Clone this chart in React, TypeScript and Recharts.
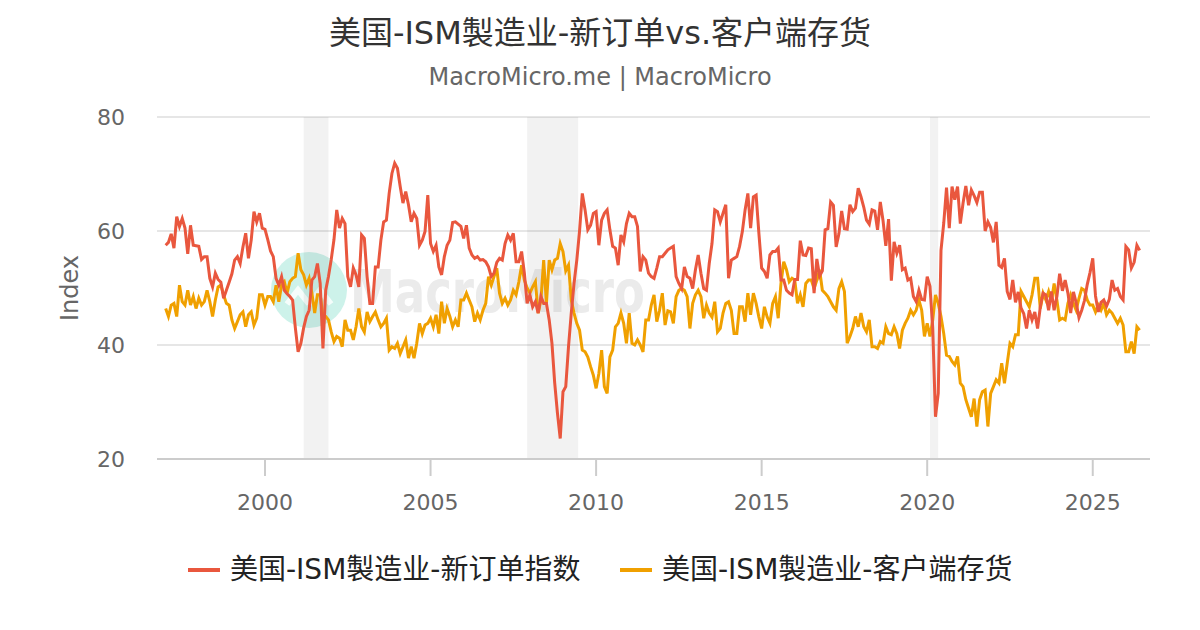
import React from 'react';
import { LineChart, Line, XAxis, YAxis, CartesianGrid, ReferenceArea } from 'recharts';

const FONT = "'DejaVu Sans', 'Noto Sans CJK SC', sans-serif";

const title = '美国-ISM製造业-新订单vs.客户端存货';
const subtitle = 'MacroMicro.me | MacroMicro';
const yAxisTitle = 'Index';
const seriesNames = ['美国-ISM製造业-新订单指数', '美国-ISM製造业-客户端存货'];
const seriesColors = ['#E9573E', '#F0A000'];

const startYear = 1997; // monthly data, Jan 1997 onward

const newOrders = [
  57.5, 58, 59.5, 57, 62.5, 60.8, 62.2, 60.5, 56, 61, 57.5, 57.4,
  57.3, 55, 55.5, 55.5, 51.7, 50.2, 52.6, 51.5, 51, 48.2, 49.6, 51,
  52.5, 54.9, 55.5, 54.3, 57.2, 59.6, 55.2, 58.4, 63.4, 61.6, 63.1, 60.5,
  60.3, 58.5, 56.5, 55.5, 51.7, 50.5, 52, 49.6, 49, 48.5, 47.9, 43,
  38.8, 40.3, 43, 45, 46.1, 51.4, 52, 54.3, 50.8, 39.4, 49.6, 52,
  55, 58.5, 63.7, 60.5, 62.2, 61.3, 52, 50.2, 53.5, 52.3, 50.2, 59.3,
  58.7, 52, 47.3, 47.3, 53.7, 53.7, 58.4, 61.6, 61.9, 66.6, 70.1, 71.9,
  71, 67.8, 64.9, 66.9, 64.6, 61.6, 63.1, 62.2, 57.5, 58.4, 59.9, 66.3,
  57.8, 56.4, 57.5, 53.7, 52.3, 55.5, 57.5, 58.4, 61.5, 61.6, 61.2, 60.8,
  58.7, 61, 57, 55.8, 55.2, 55.5, 54.9, 55, 54.6, 53.7, 52, 52.6,
  54.5, 55.2, 54.9, 57.8, 59.3, 58.4, 59.6, 54.6, 54.6, 56.4, 52.6, 47.3,
  48.8, 46.7, 47.6, 45.6, 48.5, 47.3, 47.3, 44.4, 40.3, 33.3, 28, 23.6,
  31.8, 32.7, 39.7, 45.6, 50.8, 54.9, 60, 66.6, 63.7, 60.2, 61, 63.1,
  63.4, 57.5, 61.9, 63.1, 63.7, 60.2, 57.3, 57, 54, 59.3, 58.1, 61.3,
  63.1, 62.5, 62.5, 60.8, 52.9, 55.5, 54.9, 52.6, 52, 51.7, 53.5, 55.5,
  55.5, 56.1, 56.7, 57, 57.3, 52, 50.8, 49.9, 53.7, 52, 51.7, 49.9,
  53.2, 55.8, 52.6, 49.9, 49.6, 54.3, 57.8, 63.7, 63.4, 61.6, 63.1, 64.6,
  51.7, 54.9, 55.2, 55.5, 57.3, 59.9, 63.7, 66.6, 60.5, 66, 66.3, 59.6,
  53.5, 52.9, 51.7, 55.8, 56.4, 56.4, 57, 51.4, 51.4, 49.6, 49.1, 48.8,
  51.5, 51.5, 58.3, 55.8, 55.7, 57, 56.9, 49.1, 55.1, 52.1, 53, 60.2,
  60.4, 65.1, 64.5, 57.2, 59.5, 63.5, 60.4, 60.3, 64.6, 63.4, 64, 67.5,
  66, 64.2, 61.9, 61.2, 63.7, 63.5, 60.2, 65.1, 61.8, 57.4, 62.1, 51.3,
  58.1, 56.1, 57.5, 53.2, 53.5, 51.4, 51.7, 48.5, 47.6, 49.6, 48, 47.9,
  52, 50.3, 43, 27.4, 31.5, 56.6, 61.4, 67.6, 60.5, 67.8, 65.5, 67.8,
  61.3, 64.9, 67.9, 64.5, 67.2, 66.2, 65, 66.8, 66.8, 60, 61.6, 60.6,
  58, 61.6, 54, 53.6, 55.2, 49.4, 48, 51.4, 47.5, 49.3, 46.5, 45.5,
  42.9, 46.1, 44.4, 45.8, 42.9, 46.7, 49.1, 48.8, 46.1, 49.4, 46.1, 48.5,
  52.5, 49.5, 51.4, 49.1, 45.6, 49.3, 47.4, 44.8, 46.1, 47.8, 50.6, 52.7,
  55.2, 48.6, 45.8, 47.5, 47.9, 46.8, 48, 51.4, 49.6, 49.9, 48.5, 47.9,
  57.3, 56.7, 53.5, 54.5, 57.5, 56.6,
];

const customerInventories = [
  46.4, 45, 47, 47.3, 45, 50.5, 47.6, 47, 49.6, 47, 48.5, 46.4,
  48.2, 47, 47.6, 49.6, 47.6, 45, 47.9, 50.2, 50.5, 48.8, 47.3, 47,
  44.4, 42.9, 44.1, 45.3, 45.8, 43.2, 45.3, 45.8, 43.5, 44.7, 48.8, 48.8,
  47, 48.5, 48.5, 47.6, 50.5, 47.6, 50.5, 51.1, 49.1, 51.1, 51.7, 52,
  56.1, 53.2, 52.3, 50.5, 51.7, 49.1, 45.6, 48.8, 48.8, 45, 45, 44.4,
  42.3, 40.6, 41.5, 41.2, 39.7, 44.4, 42.6, 42.6, 40.9, 43.2, 46.4, 43.2,
  42.3, 45.8, 44.1, 45, 45.8, 44.4, 43.2, 43.8, 44.7, 39.1, 39.7, 39.4,
  40.3, 38.5, 39.7, 40.9, 37.7, 39.7, 37.7, 40.3, 43.8, 42, 43.5, 43.8,
  44.7, 43.2, 45.3, 42, 47.6, 43.8, 46.4, 45, 43.2, 44.4, 43.2, 47.9,
  47.9, 49.1, 47.9, 46.7, 44.1, 45.6, 44.4, 46.1, 47.3, 52, 50.5, 52,
  53.5, 49.1, 47.3, 48.2, 47, 47.9, 49.6, 48.8, 51.1, 54, 51.4, 50,
  49.1, 50.2, 51.1, 45.6, 47.9, 54.9, 47.3, 54.9, 53.2, 54.9, 55.2, 57.8,
  56.4, 53, 54, 47.9, 45.6, 43.8, 42.6, 39.1, 38.8, 37.9, 36.2, 34.7,
  32.4, 35, 39.1, 32.7, 31.5, 37.9, 39.1, 43.2, 43.8, 45.6, 43.8, 40.3,
  45.6, 40.3, 40, 40.9, 40, 38.8, 44.4, 44.4, 47, 48.8, 44.1, 46.1,
  49.1, 43.5, 46, 45.8, 43.8, 48.5, 49.6, 49.9, 49.6, 48.5, 42.9, 47.3,
  48.8, 49.6, 48.5, 44.7, 47, 45.6, 44.9, 47.6, 42.3, 42.9, 45.6, 47.3,
  47.6, 46.1, 42, 42, 46.7, 46.7, 44.1, 49.1, 45.3, 49.1, 47.3, 44.9,
  42.9, 46.7, 44.9, 43.8, 47.3, 48.5, 44.7, 50.8, 54.6, 53.2, 51.1, 51.7,
  51.4, 47.3, 48.8, 46.7, 50.8, 51.4, 51.4, 49.9, 51.4, 53.2, 49.6, 49.1,
  48.5, 47.6, 46.7, 46.1, 49.9, 51.1, 49.4, 40.3, 41.5, 42.9, 45, 43.2,
  45.6, 43.2, 42.3, 44.4, 39.7, 39.7, 39.4, 40.6, 40.3, 43.2, 42, 41.8,
  43.2, 42, 39.4, 42.6, 43.8, 44.7, 46.1, 45.3, 46.1, 47.9, 46.1, 41.5,
  43.8, 41.5, 44.4, 48.8, 47.3, 45, 42, 38.2, 38, 37.1, 36.5, 38,
  33.3, 32.7, 30.4, 28.9, 27.4, 30.6, 25.7, 30.4, 31.8, 32.1, 25.7, 31.5,
  32.7, 33.9, 33.3, 36.8, 33.3, 36.8, 40.3, 39.7, 41.8, 41.8, 49.4, 48.5,
  47.6, 46.7, 48.8, 51.7, 51.7, 46.4, 49.1, 47.9, 49.4, 47.6, 50.8, 47.9,
  44.4, 44.7, 44.4, 47.3, 48.8, 47.3, 46.1, 48.2, 49.9, 49.6, 47.9, 47,
  47, 45.8, 47, 46.1, 47.3, 45.3, 46.1, 45.6, 44.7, 43.8, 44.7, 43.5,
  38.8, 38.8, 40.6, 38.5, 43.2, 42.6,
];

const yearTicks = [2000, 2005, 2010, 2015, 2020, 2025];
const valueTicks = [20, 40, 60, 80];
const recessionStarts = [2001.167, 2007.917, 2020.083];
const recessionEnds = [2001.917, 2009.458, 2020.333];

const data = newOrders.map((v, i) => ({
  t: startYear + i / 12,
  a: v,
  b: customerInventories[i],
}));

function Watermark() {
  return (
    <svg width={1200} height={630} style={{ position: 'absolute', left: 0, top: 0 }}>
      <circle cx={309} cy={290} r={38} fill="#cdf2ea" />
      <path d="M287 304 L298 290 L309 304 M309 304 L320 290 L331 304" stroke="#ffffff" strokeWidth={6} fill="none" opacity={0.8} />
      <text x={350} y={312} fontFamily={FONT} fontSize={58} fontWeight="bold" fill="#ebebeb" textLength={295} lengthAdjust="spacingAndGlyphs">
        MacroMicro
      </text>
    </svg>
  );
}

export default function App() {
  return (
    <div style={{ position: 'absolute', left: 0, top: 0, width: 1200, height: 630, background: '#ffffff', fontFamily: FONT, overflow: 'hidden' }}>
      <Watermark />
      <div style={{ position: 'absolute', left: 0, top: 13, width: 1200, textAlign: 'center', fontSize: 32, lineHeight: '40px', color: '#333333' }}>{title}</div>
      <div style={{ position: 'absolute', left: 0, top: 62, width: 1200, textAlign: 'center', fontSize: 24, lineHeight: '30px', color: '#666666' }}>{subtitle}</div>
      <div style={{ position: 'absolute', left: 20, top: 273, width: 100, height: 30, lineHeight: '30px', textAlign: 'center', fontSize: 24, color: '#666666', transform: 'rotate(-90deg)' }}>{yAxisTitle}</div>
      <div style={{ position: 'absolute', left: 0, top: 0 }}>
        <LineChart width={1200} height={630} data={data} margin={{ top: 117, right: 50, bottom: 121, left: 0 }}>
          <CartesianGrid vertical={false} stroke="#e6e6e6" strokeWidth={2} />
          {recessionStarts.map((s, i) => (
            <ReferenceArea key={i} x1={s} x2={recessionEnds[i]} y1={20} y2={80} fill="#000000" fillOpacity={0.05} stroke="none" ifOverflow="hidden" />
          ))}
          <XAxis
            dataKey="t"
            type="number"
            domain={[1996.738, 2026.729]}
            allowDataOverflow
            ticks={yearTicks}
            tickFormatter={(v) => String(v)}
            height={50}
            tickSize={17}
            tickMargin={18}
            axisLine={{ stroke: '#cccccc', strokeWidth: 2 }}
            tickLine={{ stroke: '#cccccc', strokeWidth: 2 }}
            tick={{ fill: '#666666', fontSize: 22, fontFamily: FONT }}
          />
          <YAxis
            type="number"
            domain={[20, 80]}
            ticks={valueTicks}
            width={157}
            axisLine={false}
            tickLine={false}
            tickSize={6}
            tickMargin={26}
            tick={{ fill: '#666666', fontSize: 22, fontFamily: FONT }}
          />
          <Line type="linear" dataKey="b" stroke={seriesColors[1]} strokeWidth={3} dot={false} isAnimationActive={false} />
          <Line type="linear" dataKey="a" stroke={seriesColors[0]} strokeWidth={3} dot={false} isAnimationActive={false} />
        </LineChart>
      </div>
      <div style={{ position: 'absolute', left: 188, top: 568, width: 32, height: 4, background: seriesColors[0] }} />
      <div style={{ position: 'absolute', left: 230, top: 550, fontSize: 28, lineHeight: '40px', color: '#222222', whiteSpace: 'nowrap' }}>{seriesNames[0]}</div>
      <div style={{ position: 'absolute', left: 620, top: 568, width: 32, height: 4, background: seriesColors[1] }} />
      <div style={{ position: 'absolute', left: 662, top: 550, fontSize: 28, lineHeight: '40px', color: '#222222', whiteSpace: 'nowrap' }}>{seriesNames[1]}</div>
    </div>
  );
}
